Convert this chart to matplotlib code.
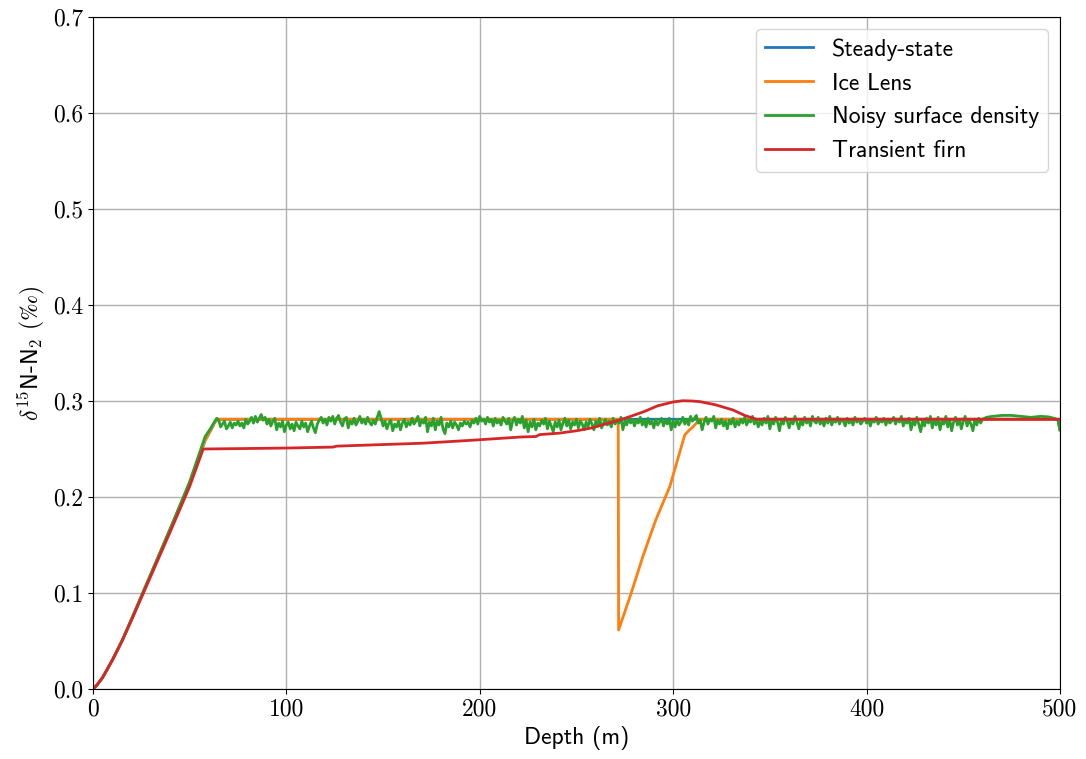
import matplotlib
matplotlib.use("Agg")
import matplotlib.pyplot as plt

plt.rcParams["font.family"] = ["cmss10", "DejaVu Sans"]
plt.rcParams["mathtext.fontset"] = "cm"
plt.rcParams["axes.formatter.use_mathtext"] = True
plt.rcParams["font.size"] = 17

X_TICKS = [0, 100, 200, 300, 400, 500]
Y_TICKS = [0, 0.1, 0.2, 0.3, 0.4, 0.5, 0.6, 0.7]

# Steady-state profile (depth m, d15N permil)
SS_DEPTH = [0, 2, 5, 10, 15, 20, 30, 40, 50, 58, 61, 63, 64.5, 100, 200, 300, 400, 499, 500]
SS_VAL = [0, 0.004, 0.012, 0.03, 0.05, 0.073, 0.12, 0.167, 0.214, 0.259, 0.270, 0.278, 0.281,
          0.281, 0.281, 0.281, 0.281, 0.281, 0.27]

# Ice lens profile
IL_DEPTH = [0, 2, 5, 10, 15, 20, 30, 40, 50, 58, 61, 63, 64.5, 100, 200, 271.6, 271.8,
            278, 284.5, 291, 298.3, 306, 308, 310.4, 312, 313.5, 400, 499, 500]
IL_VAL = [0, 0.004, 0.012, 0.03, 0.05, 0.073, 0.12, 0.167, 0.214, 0.259, 0.270, 0.278, 0.281,
          0.281, 0.281, 0.281, 0.0615, 0.098, 0.139, 0.176, 0.211, 0.2646, 0.269, 0.2733, 0.277,
          0.281, 0.281, 0.281, 0.27]

# Noisy surface density: ramp, 1 m readings from 65 to 459 m, then smooth tail
NS_RAMP_DEPTH = [0, 2, 5, 10, 15, 20, 30, 40, 50, 58, 61, 63, 64]
NS_RAMP_VAL = [0, 0.004, 0.012, 0.03, 0.05, 0.073, 0.12, 0.167, 0.216, 0.263, 0.272, 0.279, 0.282]
NS_NOISE = [
    0.280, 0.273, 0.276, 0.279, 0.271, 0.274, 0.278, 0.272, 0.277, 0.275,
    0.279, 0.274, 0.277, 0.272, 0.281, 0.276, 0.279, 0.283, 0.277, 0.284,
    0.278, 0.282, 0.286, 0.280, 0.283, 0.276, 0.281, 0.274, 0.279, 0.282,
    0.270, 0.277, 0.273, 0.279, 0.268, 0.275, 0.278, 0.271, 0.276, 0.269,
    0.278, 0.274, 0.271, 0.279, 0.273, 0.277, 0.268, 0.274, 0.279, 0.272,
    0.267, 0.276, 0.280, 0.283, 0.277, 0.281, 0.275, 0.283, 0.279, 0.284,
    0.276, 0.282, 0.285, 0.278, 0.274, 0.281, 0.283, 0.272, 0.279, 0.276,
    0.282, 0.275, 0.279, 0.284, 0.277, 0.281, 0.276, 0.283, 0.278, 0.275,
    0.280, 0.276, 0.283, 0.289, 0.282, 0.274, 0.279, 0.271, 0.277, 0.280,
    0.269, 0.276, 0.273, 0.279, 0.270, 0.277, 0.281, 0.273, 0.278, 0.275,
    0.282, 0.276, 0.279, 0.284, 0.274, 0.280, 0.277, 0.283, 0.268, 0.278,
    0.274, 0.282, 0.270, 0.279, 0.275, 0.283, 0.271, 0.266, 0.277, 0.273,
    0.279, 0.272, 0.278, 0.275, 0.270, 0.277, 0.274, 0.279, 0.276, 0.278,
    0.273, 0.280, 0.277, 0.282, 0.276, 0.284, 0.279, 0.281, 0.276, 0.283,
    0.278, 0.281, 0.274, 0.282, 0.277, 0.280, 0.275, 0.283, 0.279, 0.276,
    0.282, 0.270, 0.279, 0.283, 0.275, 0.281, 0.277, 0.284, 0.272, 0.280,
    0.268, 0.278, 0.273, 0.281, 0.270, 0.277, 0.274, 0.280, 0.276, 0.282,
    0.271, 0.279, 0.274, 0.268, 0.278, 0.273, 0.280, 0.270, 0.277, 0.282,
    0.274, 0.280, 0.271, 0.278, 0.275, 0.281, 0.272, 0.279, 0.276, 0.270,
    0.278, 0.273, 0.281, 0.276, 0.270, 0.279, 0.274, 0.282, 0.272, 0.277,
    0.281, 0.275, 0.279, 0.273, 0.282, 0.276, 0.280, 0.277, 0.283, 0.270,
    0.279, 0.275, 0.282, 0.277, 0.281, 0.274, 0.280, 0.277, 0.283, 0.275,
    0.280, 0.273, 0.282, 0.276, 0.279, 0.272, 0.281, 0.275, 0.278, 0.282,
    0.274, 0.280, 0.276, 0.282, 0.270, 0.279, 0.273, 0.281, 0.275, 0.278,
    0.283, 0.276, 0.281, 0.275, 0.284, 0.279, 0.282, 0.285, 0.277, 0.280,
    0.270, 0.278, 0.283, 0.276, 0.281, 0.279, 0.284, 0.272, 0.280, 0.276,
    0.281, 0.274, 0.279, 0.271, 0.280, 0.276, 0.282, 0.273, 0.279, 0.275,
    0.281, 0.277, 0.283, 0.275, 0.280, 0.278, 0.284, 0.276, 0.281, 0.273,
    0.279, 0.275, 0.282, 0.277, 0.284, 0.271, 0.280, 0.276, 0.283, 0.278,
    0.269, 0.281, 0.276, 0.283, 0.279, 0.272, 0.281, 0.276, 0.284, 0.278,
    0.271, 0.280, 0.275, 0.283, 0.277, 0.281, 0.274, 0.284, 0.279, 0.277,
    0.283, 0.276, 0.280, 0.274, 0.282, 0.277, 0.284, 0.275, 0.281, 0.278,
    0.283, 0.276, 0.281, 0.279, 0.274, 0.282, 0.277, 0.280, 0.275, 0.283,
    0.278, 0.281, 0.276, 0.279, 0.282, 0.277, 0.280, 0.274, 0.281, 0.278,
    0.283, 0.276, 0.280, 0.278, 0.282, 0.275, 0.281, 0.277, 0.279, 0.283,
    0.276, 0.281, 0.278, 0.284, 0.274, 0.280, 0.277, 0.282, 0.270, 0.279,
    0.275, 0.283, 0.276, 0.268, 0.280, 0.274, 0.282, 0.277, 0.284, 0.272,
    0.281, 0.275, 0.283, 0.270, 0.279, 0.276, 0.284, 0.273, 0.281, 0.269,
    0.278, 0.283, 0.275, 0.281, 0.271, 0.279, 0.284, 0.274, 0.280, 0.276,
    0.269, 0.281, 0.275, 0.282, 0.277,
]
NS_NOISE_START = 65
NS_TAIL_DEPTH = [460, 462, 465, 470, 475, 480, 485, 490, 494, 497, 499, 500]
NS_TAIL_VAL = [0.281, 0.283, 0.284, 0.285, 0.285, 0.284, 0.283, 0.284, 0.2835, 0.282, 0.280, 0.270]

# Transient firn profile
TF_DEPTH = [0, 2, 5, 10, 15, 20, 30, 40, 50, 57, 100, 124, 126, 170, 195, 210, 221, 229, 231,
            241, 250, 258, 265, 272, 278, 285, 292, 300, 305, 310, 314, 322, 331, 337, 343,
            400, 500]
TF_VAL = [0, 0.004, 0.012, 0.03, 0.05, 0.072, 0.118, 0.164, 0.211, 0.250, 0.251, 0.252, 0.253,
          0.256, 0.259, 0.261, 0.2625, 0.263, 0.265, 0.2665, 0.269, 0.272, 0.276, 0.280, 0.284,
          0.289, 0.295, 0.299, 0.3003, 0.300, 0.2993, 0.296, 0.2906, 0.285, 0.281, 0.281, 0.281]

ns_depth = NS_RAMP_DEPTH + [NS_NOISE_START + i for i in range(len(NS_NOISE))] + NS_TAIL_DEPTH
ns_val = NS_RAMP_VAL + NS_NOISE + NS_TAIL_VAL

fig = plt.figure(figsize=(10.86, 7.59), dpi=100)
ax = fig.add_axes([0.0856, 0.0922, 0.8904, 0.8854])

ax.plot(SS_DEPTH, SS_VAL, color="#1f77b4", lw=2, label="Steady-state")
ax.plot(IL_DEPTH, IL_VAL, color="#ff7f0e", lw=2, label="Ice Lens")
ax.plot(ns_depth, ns_val, color="#2ca02c", lw=2, label="Noisy surface density")
ax.plot(TF_DEPTH, TF_VAL, color="#d62728", lw=2, label="Transient firn")

ax.set_xlim(0, 500)
ax.set_ylim(0, 0.7)
ax.set_xticks(X_TICKS, labels=[str(t) for t in X_TICKS], fontfamily="cmr10")
ax.set_yticks(Y_TICKS, labels=[f"{t:.1f}" for t in Y_TICKS], fontfamily="cmr10")
ax.grid(True, color="#b0b0b0", lw=1)
ax.set_axisbelow(True)
ax.set_xlabel("Depth (m)")
ax.set_ylabel(r"$\delta^{15}$N-N$_2$ $(\mathrm{‰})$")
ax.legend(loc="upper right")

fig.savefig("out.png", dpi=100)
